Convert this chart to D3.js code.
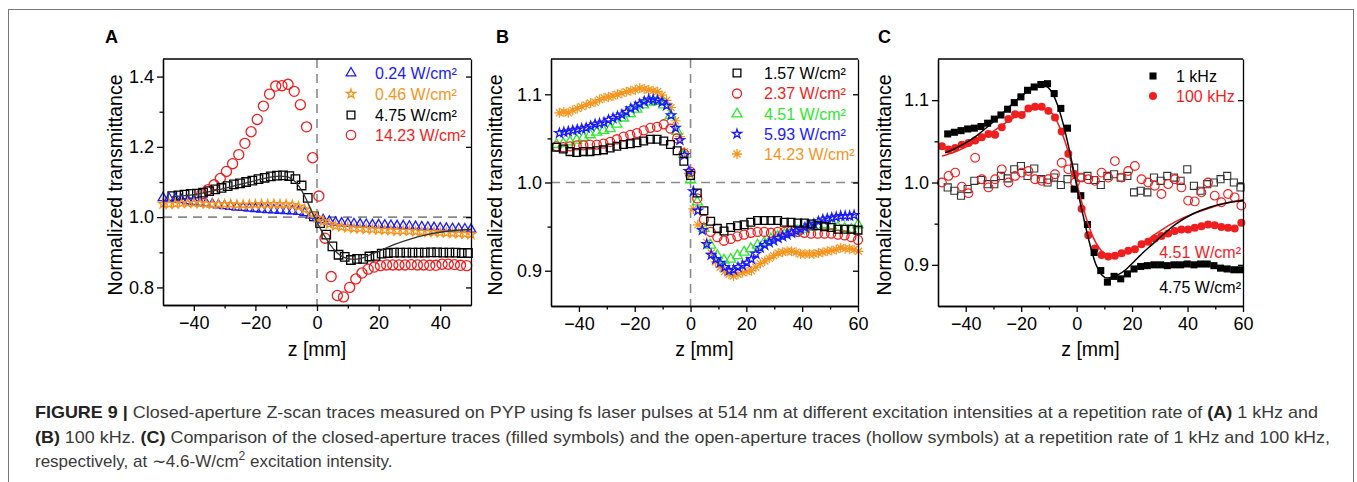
<!DOCTYPE html>
<html>
<head>
<meta charset="utf-8">
<script src="https://cdn.jsdelivr.net/npm/d3@7"></script>
<style>
  body { margin: 0; background: #fff; }
  svg text { font-family: Arial, "Liberation Sans", sans-serif; }
</style>
</head>
<body>
<div id="fig"></div>
<script>
// ---------- data (z in mm, normalized transmittance) ----------

// Panel A, 1 kHz
const aBlue024 = [1.055,1.053,1.051,1.049,1.046,1.044,1.041,1.039,1.037,1.034,1.032,1.030,1.028,1.027,1.025,1.024,1.022,1.021,1.020,1.019,1.018,1.017,1.016,1.012,1.005,0.998,0.992,0.988,0.985,0.983,0.982,0.981,0.980,0.979,0.978,0.978,0.977,0.976,0.975,0.975,0.974,0.973,0.972,0.971,0.970,0.969,0.968,0.967,0.967,0.966,0.965];
const aOrange046 = [1.038,1.037,1.038,1.039,1.040,1.040,1.039,1.038,1.037,1.037,1.036,1.036,1.035,1.035,1.035,1.036,1.036,1.036,1.037,1.036,1.036,1.034,1.030,1.022,1.010,0.998,0.988,0.980,0.975,0.972,0.970,0.968,0.967,0.966,0.965,0.964,0.963,0.962,0.961,0.961,0.960,0.959,0.958,0.957,0.957,0.956,0.955,0.954,0.953,0.952,0.951];
const aBlack475 = [1.060,1.062,1.064,1.066,1.067,1.070,1.074,1.079,1.083,1.088,1.093,1.096,1.100,1.104,1.108,1.112,1.116,1.118,1.119,1.117,1.108,1.090,1.055,1.002,0.983,0.950,0.917,0.893,0.887,0.878,0.881,0.881,0.888,0.890,0.896,0.898,0.899,0.899,0.899,0.899,0.899,0.899,0.900,0.900,0.899,0.899,0.899,0.898,0.898];
const aRed1423 = [1.066,1.078,1.092,1.110,1.130,1.152,1.178,1.210,1.243,1.278,1.316,1.350,1.373,1.374,1.378,1.358,1.320,1.257,1.169,1.060,0.940,0.831,0.777,0.773,0.800,0.824,0.841,0.852,0.858,0.862,0.864,0.864,0.864,0.864,0.865,0.864,0.864,0.863,0.863,0.866,0.866,0.865,0.863,0.862];
const aFitZ = [-47,-40,-30,-20,-15,-12,-10,-8,-6,-4,-2,0,2,4,6,8,10,12,14,16,20,25,30,35,40,45,50];
const aFitT = [1.058,1.064,1.082,1.104,1.114,1.117,1.115,1.108,1.090,1.060,1.022,0.985,0.953,0.925,0.903,0.889,0.882,0.880,0.882,0.888,0.903,0.922,0.937,0.949,0.957,0.962,0.965];

// Panel B, 100 kHz
const bBlack157 = [1.040,1.038,1.035,1.034,1.035,1.035,1.036,1.037,1.039,1.041,1.043,1.044,1.045,1.047,1.049,1.049,1.047,1.043,1.036,1.024,1.008,0.988,0.968,0.956,0.948,0.945,0.949,0.951,0.952,0.955,0.957,0.957,0.957,0.957,0.955,0.955,0.954,0.954,0.953,0.951,0.950,0.949,0.947,0.947,0.947,0.946];
const bRed237 = [1.041,1.040,1.041,1.042,1.042,1.043,1.043,1.044,1.046,1.049,1.052,1.054,1.056,1.059,1.062,1.063,1.066,1.061,1.050,1.033,1.012,0.982,0.958,0.944,0.938,0.934,0.936,0.939,0.941,0.943,0.944,0.944,0.943,0.944,0.944,0.945,0.944,0.943,0.942,0.942,0.942,0.942,0.941,0.940,0.938,0.935];
const bGreen451 = [1.043,1.044,1.046,1.048,1.051,1.054,1.057,1.059,1.061,1.066,1.073,1.078,1.083,1.088,1.091,1.092,1.088,1.076,1.058,1.032,1.003,0.978,0.948,0.929,0.917,0.912,0.913,0.917,0.921,0.925,0.929,0.932,0.936,0.939,0.941,0.943,0.945,0.947,0.949,0.951,0.952,0.951,0.949,0.948,0.947,0.952];
const bBlue593 = [1.056,1.057,1.058,1.059,1.060,1.061,1.062,1.064,1.066,1.067,1.068,1.071,1.073,1.075,1.077,1.080,1.084,1.086,1.089,1.092,1.094,1.094,1.093,1.091,1.087,1.076,1.062,1.048,1.031,1.013,0.990,0.968,0.946,0.930,0.918,0.913,0.909,0.904,0.900,0.901,0.904,0.906,0.909,0.913,0.919,0.926,0.929,0.932,0.934,0.937,0.939,0.941,0.943,0.945,0.947,0.949,0.951,0.953,0.956,0.958,0.959,0.960,0.961,0.962,0.962,0.962,0.963];
const bOrange1423 = [1.079,1.080,1.079,1.082,1.084,1.086,1.088,1.090,1.091,1.094,1.096,1.097,1.098,1.100,1.101,1.103,1.104,1.105,1.107,1.106,1.105,1.104,1.103,1.099,1.093,1.085,1.070,1.052,1.035,1.010,0.970,0.952,0.948,0.932,0.920,0.910,0.904,0.899,0.896,0.894,0.896,0.898,0.899,0.900,0.904,0.908,0.911,0.914,0.917,0.920,0.921,0.922,0.922,0.921,0.919,0.919,0.919,0.919,0.920,0.921,0.922,0.923,0.924,0.926,0.925,0.925,0.924,0.922];

// Panel C, ~4.6 W/cm2: closed aperture (filled) and open aperture (hollow)
const c1kClosed = [1.059,1.061,1.063,1.065,1.066,1.068,1.072,1.077,1.082,1.089,1.097,1.104,1.112,1.116,1.119,1.120,1.108,1.090,1.066,0.992,0.984,0.949,0.915,0.893,0.879,0.886,0.883,0.889,0.895,0.898,0.899,0.900,0.900,0.899,0.900,0.900,0.901,0.900,0.901,0.901,0.899,0.896,0.895,0.894,0.894];
const c100kClosed = [1.044,1.040,1.042,1.046,1.048,1.051,1.055,1.059,1.058,1.067,1.077,1.083,1.082,1.090,1.092,1.092,1.087,1.079,1.062,1.035,1.010,0.968,0.936,0.920,0.912,0.910,0.911,0.914,0.917,0.919,0.925,0.928,0.932,0.935,0.938,0.941,0.943,0.943,0.945,0.947,0.949,0.948,0.946,0.945,0.944,0.951];
const c1kOpen = [0.994,0.990,0.984,0.992,1.002,1.003,0.998,0.998,1.008,1.005,1.016,1.020,1.008,1.017,1.004,1.000,1.006,0.997,1.004,1.018,1.006,1.008,1.003,0.997,1.008,1.010,1.006,1.008,0.988,0.990,0.988,1.006,1.002,1.008,1.006,1.002,1.016,0.996,0.990,0.998,1.000,1.004,1.008,1.000,0.994];
const c100kOpen = [1.000,1.008,1.012,0.995,0.987,1.030,1.004,0.994,1.004,1.016,1.000,1.008,1.012,1.014,1.004,1.002,1.004,1.010,1.024,1.016,1.000,1.006,1.004,1.002,1.012,1.006,1.026,1.006,1.014,1.020,1.004,1.000,0.996,0.986,0.998,1.004,0.994,0.978,0.977,0.988,1.000,0.984,0.976,0.986,0.982,0.972];
const cFit1kZ = [-47.4,-44,-40,-36,-32,-28,-24,-20,-16,-13,-11,-9,-7,-5,-3,-1,1,3,5,7,9,11,13,15,18,21,24,27,30,33,36,42,48,54,60];
const cFit1kT = [1.036,1.041,1.048,1.057,1.068,1.080,1.093,1.105,1.114,1.118,1.117,1.110,1.095,1.073,1.045,1.013,0.980,0.950,0.922,0.900,0.888,0.884,0.885,0.888,0.895,0.905,0.915,0.924,0.933,0.942,0.950,0.962,0.970,0.975,0.978];
const cFit100kZ = [-48.6,-44,-40,-36,-32,-28,-24,-20,-16,-13,-10,-8,-6,-4,-2,0,2,4,6,8,10,12,14,17,20,24,27,30,36,42,48,54,60];
const cFit100kT = [1.032,1.037,1.043,1.050,1.058,1.067,1.076,1.084,1.089,1.090,1.087,1.080,1.066,1.048,1.025,1.000,0.974,0.951,0.933,0.921,0.914,0.912,0.912,0.914,0.918,0.926,0.934,0.941,0.953,0.962,0.969,0.975,0.979];

// legend labels
const aLabels = ["0.24 W/cm²", "0.46 W/cm²", "4.75 W/cm²", "14.23 W/cm²"];
const bLabels = ["1.57 W/cm²", "2.37 W/cm²", "4.51 W/cm²", "5.93 W/cm²", "14.23 W/cm²"];
const cLabels = ["1 kHz", "100 kHz"];
const cNotes = ["4.51 W/cm²", "4.75 W/cm²"];

// ---------- drawing ----------
const W = 1357, H = 482;
const BLUE = "#1a1aff", ORANGE = "#f7941d", RED = "#f01e1e", GREEN = "#2ee62e", BLACK = "#000";

const svg = d3.select("#fig").append("svg")
    .attr("width", W)
    .attr("height", H)
    .style("display", "block");

svg.append("rect").attr("width", W).attr("height", H).attr("fill", "#fff");
svg.append("rect")
    .attr("x", 8.5).attr("y", 9.5)
    .attr("width", 1345).attr("height", 500)
    .attr("fill", "none").attr("stroke", "#777").attr("stroke-width", 1);

// 8-arm asterisk, drawn as strokes
const symbolAsterisk = {
  draw(ctx, size) {
    const r = Math.sqrt(size) / 2;
    for (let k = 0; k < 4; k++) {
      const a = k * Math.PI / 4;
      ctx.moveTo(-r * Math.cos(a), -r * Math.sin(a));
      ctx.lineTo(r * Math.cos(a), r * Math.sin(a));
    }
  }
};

// z grid for a series sampled at a constant step
const grid = (z0, dz, vals) => vals.map((v, i) => [z0 + i * dz, v]);

function panel(o) {
  const g = svg.append("g");
  const x = d3.scaleLinear().domain(o.xDomain).range([o.left, o.right]);
  const y = d3.scaleLinear().domain(o.yDomain).range([o.bottom, o.top]);

  // reference dashed lines
  if (o.dashed) {
    g.append("line")
        .attr("x1", o.left).attr("x2", o.right).attr("y1", y(1)).attr("y2", y(1))
        .attr("stroke", "#8a8a8a").attr("stroke-width", 1.6).attr("stroke-dasharray", "9,6");
    g.append("line")
        .attr("x1", x(0)).attr("x2", x(0)).attr("y1", o.top).attr("y2", o.bottom)
        .attr("stroke", "#8a8a8a").attr("stroke-width", 1.6).attr("stroke-dasharray", "9,6");
  }

  // markers
  o.series.forEach(s => {
    const sym = d3.symbol().type(s.type).size(s.size);
    g.append("g").selectAll("path")
        .data(s.points)
        .join("path")
        .attr("transform", d => `translate(${x(d[0])},${y(d[1])})`)
        .attr("d", sym)
        .attr("fill", s.filled ? s.color : "none")
        .attr("stroke", s.filled ? "none" : s.color)
        .attr("stroke-width", s.sw || 1.3);
  });

  // fit curves
  const line = d3.line().x(d => x(d[0])).y(d => y(d[1])).curve(d3.curveMonotoneX);
  (o.fits || []).forEach(f => {
    g.append("path")
        .attr("d", line(f.z.map((z, i) => [z, f.t[i]])))
        .attr("fill", "none").attr("stroke", f.color).attr("stroke-width", f.sw || 1.4);
  });

  // axes
  const fmtY = d3.format(".1f");
  const ax = g.append("g");
  ax.append("g").attr("transform", `translate(0,${o.bottom})`)
      .call(d3.axisBottom(x).tickValues(o.xMajor).tickSize(6).tickSizeOuter(0).tickPadding(5).tickFormat(d3.format("d")));
  ax.append("g").attr("transform", `translate(0,${o.bottom})`)
      .call(d3.axisBottom(x).tickValues(o.xMinor).tickSize(3.5).tickSizeOuter(0).tickFormat(""));
  ax.append("g").attr("transform", `translate(${o.left},0)`)
      .call(d3.axisLeft(y).tickValues(o.yMajor).tickSize(6).tickSizeOuter(0).tickPadding(3).tickFormat(fmtY));
  ax.append("g").attr("transform", `translate(${o.left},0)`)
      .call(d3.axisLeft(y).tickValues(o.yMinor).tickSize(3.5).tickSizeOuter(0).tickFormat(""));
  // mirrored right axis with inward ticks, plain top edge
  ax.append("g").attr("transform", `translate(${o.right},0)`)
      .call(d3.axisLeft(y).tickValues(o.yMajor).tickSize(5).tickSizeOuter(0).tickFormat(""));
  ax.append("line")
      .attr("x1", o.left).attr("x2", o.right).attr("y1", o.top).attr("y2", o.top)
      .attr("stroke", "#000").attr("stroke-width", 1.3);
  ax.selectAll(".domain, .tick line").attr("stroke", "#000").attr("stroke-width", 1.3);
  ax.selectAll("text")
      .attr("fill", "#000")
      .attr("font-size", 18)
      .attr("font-family", "Arial, 'Liberation Sans', sans-serif");

  // axis titles and panel letter
  g.append("text")
      .attr("x", (o.left + o.right) / 2).attr("y", 356)
      .attr("text-anchor", "middle").attr("font-size", 19.5)
      .text("z [mm]");
  g.append("text")
      .attr("transform", `translate(${o.titleX},185) rotate(-90)`)
      .attr("text-anchor", "middle").attr("dy", "0.35em").attr("font-size", 19.5)
      .text("Normalized transmittance");
  g.append("text")
      .attr("x", o.letterX).attr("y", 43)
      .attr("font-size", 18).attr("font-weight", "bold")
      .text(o.letter);

  // legend
  o.legend.forEach((l, i) => {
    const yy = o.legendY[i];
    g.append("path")
        .attr("transform", `translate(${o.legendMarkX},${yy})`)
        .attr("d", d3.symbol().type(l.type).size(l.size)())
        .attr("fill", l.filled ? l.color : "none")
        .attr("stroke", l.filled ? "none" : l.color)
        .attr("stroke-width", 1.3);
    g.append("text")
        .attr("x", o.legendTextX).attr("y", yy).attr("dy", "0.36em")
        .attr("font-size", 16).attr("fill", l.color)
        .text(l.label);
  });

  return { g, x, y };
}

// ---- Panel A ----
const A = [
  { points: grid(-37.4, 2, aRed1423), type: d3.symbolCircle, size: 80, color: RED },
  { points: grid(-47, 2, aBlack475), type: d3.symbolSquare, size: 72, color: BLACK },
  { points: grid(-50, 2, aBlue024), type: d3.symbolTriangle, size: 40, color: BLUE },
  { points: grid(-50, 2, aOrange046), type: d3.symbolStar, size: 26, color: ORANGE }
];
panel({
  left: 163, right: 471, top: 59, bottom: 305,
  xDomain: [-50, 50], yDomain: [0.75, 1.45],
  xMajor: [-40, -20, 0, 20, 40], xMinor: [-30, -10, 10, 30],
  yMajor: [0.8, 1.0, 1.2, 1.4], yMinor: [0.9, 1.1, 1.3],
  dashed: true, series: A,
  fits: [{ z: aFitZ, t: aFitT, color: "#333", sw: 1.3 }],
  titleX: 115, letterX: 105, letter: "A",
  legendMarkX: 351, legendTextX: 375, legendY: [73, 94, 115, 135],
  legend: [
    { type: d3.symbolTriangle, size: 40, color: BLUE, label: aLabels[0] },
    { type: d3.symbolStar, size: 26, color: ORANGE, label: aLabels[1] },
    { type: d3.symbolSquare, size: 60, color: BLACK, label: aLabels[2] },
    { type: d3.symbolCircle, size: 70, color: RED, label: aLabels[3] }
  ]
});

// ---- Panel B ----
const B = [
  { points: grid(-47, 1.6, bOrange1423), type: symbolAsterisk, size: 100, color: ORANGE, sw: 1.2 },
  { points: grid(-48, 2.4, bGreen451), type: d3.symbolTriangle, size: 44, color: GREEN },
  { points: grid(-48, 2.4, bRed237), type: d3.symbolCircle, size: 64, color: RED },
  { points: grid(-47, 1.6, bBlue593), type: d3.symbolStar, size: 26, color: BLUE },
  { points: grid(-48, 2.4, bBlack157), type: d3.symbolSquare, size: 60, color: BLACK }
];
panel({
  left: 551, right: 858, top: 59, bottom: 306,
  xDomain: [-50, 60], yDomain: [0.86, 1.14],
  xMajor: [-40, -20, 0, 20, 40, 60], xMinor: [-30, -10, 10, 30, 50],
  yMajor: [0.9, 1.0, 1.1], yMinor: [0.95, 1.05],
  dashed: true, series: B,
  titleX: 495, letterX: 496, letter: "B",
  legendMarkX: 737, legendTextX: 764, legendY: [73, 93.5, 114, 134, 154],
  legend: [
    { type: d3.symbolSquare, size: 60, color: BLACK, label: bLabels[0] },
    { type: d3.symbolCircle, size: 64, color: RED, label: bLabels[1] },
    { type: d3.symbolTriangle, size: 44, color: GREEN, label: bLabels[2] },
    { type: d3.symbolStar, size: 26, color: BLUE, label: bLabels[3] },
    { type: symbolAsterisk, size: 100, color: ORANGE, label: bLabels[4] }
  ]
});

// ---- Panel C ----
const C = [
  { points: grid(-46.5, 2.4, c1kOpen), type: d3.symbolSquare, size: 50, color: "#333", sw: 1.1 },
  { points: grid(-48.6, 2.4, c100kOpen), type: d3.symbolCircle, size: 60, color: RED, sw: 1.1 },
  { points: grid(-48.6, 2.4, c100kClosed), type: d3.symbolCircle, size: 50, color: RED, filled: true },
  { points: grid(-46.5, 2.4, c1kClosed), type: d3.symbolSquare, size: 50, color: BLACK, filled: true }
];
const pc = panel({
  left: 938, right: 1243, top: 59, bottom: 306,
  xDomain: [-50, 60], yDomain: [0.85, 1.15],
  xMajor: [-40, -20, 0, 20, 40, 60], xMinor: [-30, -10, 10, 30, 50],
  yMajor: [0.9, 1.0, 1.1], yMinor: [0.95, 1.05],
  dashed: false, series: C,
  fits: [
    { z: cFit100kZ, t: cFit100kT, color: RED, sw: 1.5 },
    { z: cFit1kZ, t: cFit1kT, color: BLACK, sw: 1.5 }
  ],
  titleX: 884, letterX: 878, letter: "C",
  legendMarkX: 1153, legendTextX: 1176, legendY: [76, 96],
  legend: [
    { type: d3.symbolSquare, size: 50, color: BLACK, filled: true, label: cLabels[0] },
    { type: d3.symbolCircle, size: 50, color: RED, filled: true, label: cLabels[1] }
  ]
});
pc.g.append("text").attr("x", 1241).attr("y", 252).attr("dy", "0.36em")
    .attr("text-anchor", "end").attr("font-size", 16).attr("fill", RED).text(cNotes[0]);
pc.g.append("text").attr("x", 1241).attr("y", 287).attr("dy", "0.36em")
    .attr("text-anchor", "end").attr("font-size", 16).attr("fill", BLACK).text(cNotes[1]);

// ---- caption ----
const cap = svg.append("g").attr("font-size", 17).attr("fill", "#3a3a3a");
const capLines = [
  { y: 418, len: 1283, parts: [["FIGURE 9 | ", true], ["Closed-aperture Z-scan traces measured on PYP using fs laser pulses at 514 nm at different excitation intensities at a repetition rate of ", false], ["(A)", true], [" 1 kHz and", false]] },
  { y: 443, len: 1295, parts: [["(B)", true], [" 100 kHz. ", false], ["(C)", true], [" Comparison of the closed-aperture traces (filled symbols) and the open-aperture traces (hollow symbols) at a repetition rate of 1 kHz and 100 kHz,", false]] },
  { y: 467, len: null, parts: [["respectively, at ∼4.6-W/cm", false], ["2", false, true], [" excitation intensity.", false]] }
];
capLines.forEach(l => {
  const t = cap.append("text").attr("x", 35).attr("y", l.y);
  if (l.len) t.attr("textLength", l.len).attr("lengthAdjust", "spacingAndGlyphs");
  l.parts.forEach(p => {
    const ts = t.append("tspan").text(p[0]);
    if (p[1]) ts.attr("font-weight", "bold").attr("fill", "#222");
    if (p[2]) ts.attr("baseline-shift", "super").attr("font-size", 12);
  });
});
</script>
</body>
</html>
